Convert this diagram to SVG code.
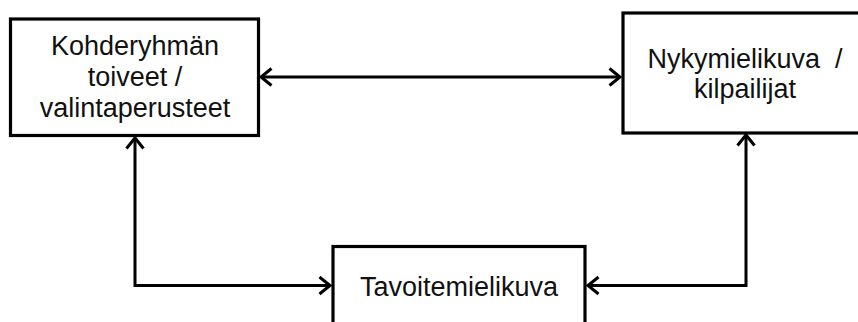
<svg xmlns="http://www.w3.org/2000/svg" width="858" height="322" viewBox="0 0 858 322">
  <style>
    .box { fill: #ffffff; stroke: #000000; stroke-width: 3.2; }
    .label { font-family: "Liberation Sans", Arial, sans-serif; font-size: 27px; fill: #111111; text-anchor: middle; }
    .link { fill: none; stroke: #000000; stroke-width: 3; }
  </style>
  <defs>
    <!-- open chevron arrowhead, tip at the path end -->
    <marker id="tip" markerWidth="16" markerHeight="22" refX="12" refY="10" orient="auto-start-reverse" markerUnits="userSpaceOnUse">
      <path d="M1.5,1.5 L12,10 L1.5,18.5" fill="none" stroke="#000000" stroke-width="3"/>
    </marker>
  </defs>
  <rect width="858" height="322" fill="#ffffff"/>

  <g id="kohderyhma">
    <rect class="box" x="10.5" y="19" width="248" height="116.5"/>
    <text class="label" x="135" y="55">Kohderyhmän</text>
    <text class="label" x="135" y="86">toiveet /</text>
    <text class="label" x="135" y="117">valintaperusteet</text>
  </g>

  <g id="nykymielikuva">
    <rect class="box" x="623" y="13" width="250" height="120"/>
    <text class="label" x="745" y="68" xml:space="preserve">Nykymielikuva  /</text>
    <text class="label" x="745" y="98">kilpailijat</text>
  </g>

  <g id="tavoitemielikuva">
    <rect class="box" x="333" y="246.5" width="252" height="100"/>
    <text class="label" x="459" y="296">Tavoitemielikuva</text>
  </g>

  <g id="connectors">
    <path class="link" d="M261,77 L620,77" marker-start="url(#tip)" marker-end="url(#tip)"/>
    <path class="link" d="M135,138 L135,285.5 L330,285.5" marker-start="url(#tip)" marker-end="url(#tip)"/>
    <path class="link" d="M746,135 L746,285.5 L588,285.5" marker-start="url(#tip)" marker-end="url(#tip)"/>
  </g>
</svg>
